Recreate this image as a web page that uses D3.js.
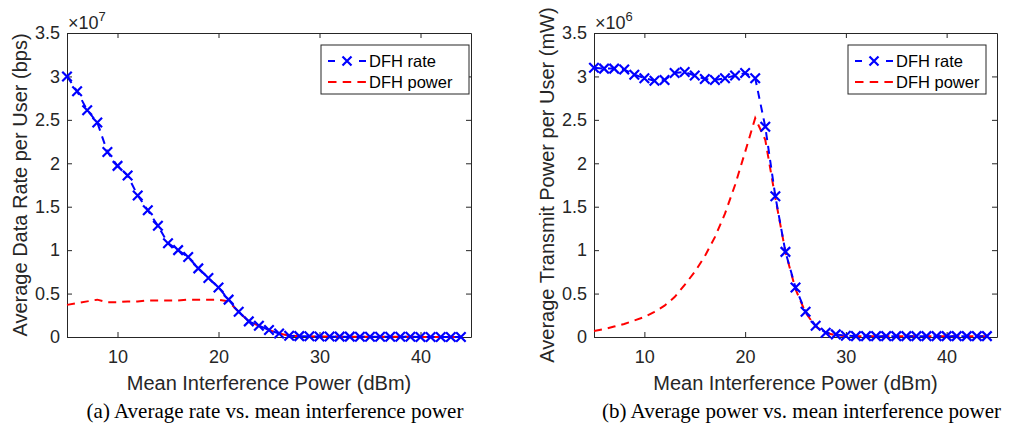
<!DOCTYPE html>
<html>
<head>
<meta charset="utf-8">
<script src="https://cdn.jsdelivr.net/npm/d3@7"></script>
<style>
  body { margin: 0; background: #fff; }
  svg { display: block; }
</style>
</head>
<body>
<svg id="chart" width="1028" height="436"></svg>
<script>
// x positions of the samples (dBm)
const interference = [5, 6, 7, 8, 9, 10, 11, 12, 13, 14, 15, 16, 17, 18, 19, 20, 21, 22, 23, 24,
                      25, 26, 27, 28, 29, 30, 31, 32, 33, 34, 35, 36, 37, 38, 39, 40, 41, 42, 43, 44];

// (a) average rate, in units of 1e7 bps
const rateA_dfhRate = [3.00, 2.83, 2.61, 2.47, 2.13, 1.97, 1.86, 1.63, 1.46, 1.28,
                       1.08, 1.00, 0.92, 0.79, 0.68, 0.57, 0.43, 0.29, 0.18, 0.13,
                       0.08, 0.04, 0.015, 0.01, 0.008, 0.006, 0.005, 0.004, 0.004, 0.003,
                       0.003, 0.002, 0.002, 0.002, 0.002, 0.001, 0.001, 0.001, 0.001, 0.001];
const rateA_dfhPower = [0.37, 0.39, 0.41, 0.43, 0.40, 0.40, 0.41, 0.41, 0.42, 0.42,
                        0.42, 0.42, 0.43, 0.43, 0.43, 0.43, 0.41, 0.29, 0.18, 0.13,
                        0.08, 0.04, 0.015, 0.01, 0.008, 0.006, 0.005, 0.004, 0.004, 0.003,
                        0.003, 0.002, 0.002, 0.002, 0.002, 0.001, 0.001, 0.001, 0.001, 0.001];

// (b) average transmit power, in units of 1e6 mW
const powerB_dfhRate = [3.10, 3.09, 3.09, 3.08, 3.02, 2.98, 2.95, 2.96, 3.04, 3.05,
                        3.01, 2.97, 2.96, 2.98, 3.01, 3.04, 2.98, 2.42, 1.62, 0.98,
                        0.57, 0.29, 0.13, 0.05, 0.03, 0.015, 0.01, 0.01, 0.01, 0.01,
                        0.01, 0.01, 0.01, 0.01, 0.01, 0.01, 0.01, 0.01, 0.01, 0.01];
const powerB_dfhPower = [0.07, 0.09, 0.12, 0.15, 0.19, 0.23, 0.29, 0.36, 0.46, 0.60,
                         0.75, 0.93, 1.15, 1.42, 1.75, 2.13, 2.52, 2.27, 1.60, 0.98,
                         0.55, 0.28, 0.12, 0.05, 0.02, 0.01, 0.01, 0.01, 0.01, 0.01,
                         0.01, 0.01, 0.01, 0.01, 0.01, 0.01, 0.01, 0.01, 0.01, 0.01];

const xTicks = [10, 20, 30, 40];
const yTicks = [0, 0.5, 1, 1.5, 2, 2.5, 3, 3.5];
const legendLabels = ['DFH rate', 'DFH power'];

const panels = [
  { left: 67, right: 471, exponent: '7', yLabel: 'Average Data Rate per User (bps)',
    caption: '(a) Average rate vs. mean interference power',
    rate: rateA_dfhRate, power: rateA_dfhPower, legendX: 321, legendW: 148 },
  { left: 594, right: 997, exponent: '6', yLabel: 'Average Transmit Power per User (mW)',
    caption: '(b) Average power vs. mean interference power',
    rate: powerB_dfhRate, power: powerB_dfhPower, legendX: 848, legendW: 138 }
];

const plotTop = 33, plotBottom = 337;
const axisColor = '#262626';
const font = '"Liberation Sans", Arial, sans-serif';
const svg = d3.select('#chart');

function xMark(g, x, y, size, color) {
  const h = size / 2;
  g.append('path')
    .attr('d', `M${x - h},${y - h}L${x + h},${y + h}M${x - h},${y + h}L${x + h},${y - h}`)
    .attr('stroke', color).attr('stroke-width', 2.2).attr('fill', 'none');
}

panels.forEach(p => {
  const x = d3.scaleLinear().domain([5, 45]).range([p.left, p.right]);
  const y = d3.scaleLinear().domain([0, 3.5]).range([plotBottom, plotTop]);
  const g = svg.append('g');

  // axes (box with inward ticks)
  g.append('g').attr('transform', `translate(0,${plotBottom})`)
    .call(d3.axisBottom(x).tickValues(xTicks).tickSizeInner(-5).tickSizeOuter(0).tickPadding(13));
  g.append('g').attr('transform', `translate(0,${plotTop})`)
    .call(d3.axisTop(x).tickValues(xTicks).tickSizeInner(-5).tickSizeOuter(0).tickFormat(''));
  g.append('g').attr('transform', `translate(${p.left},0)`)
    .call(d3.axisLeft(y).tickValues(yTicks).tickSizeInner(-5).tickSizeOuter(0).tickPadding(7)
      .tickFormat(d3.format('')));
  g.append('g').attr('transform', `translate(${p.right},0)`)
    .call(d3.axisRight(y).tickValues(yTicks).tickSizeInner(-5).tickSizeOuter(0).tickFormat(''));

  g.selectAll('.domain').attr('stroke', axisColor);
  g.selectAll('.tick line').attr('stroke', axisColor);
  g.selectAll('.tick text').attr('fill', axisColor).style('font-family', font).style('font-size', '18px');

  const pts = interference.map((v, i) => ({ x: v, r: p.rate[i], pw: p.power[i] }));
  const line = key => d3.line().x(d => x(d.x)).y(d => y(d[key]));

  g.append('path').datum(pts).attr('d', line('pw'))
    .attr('fill', 'none').attr('stroke', '#ff0000').attr('stroke-width', 2).attr('stroke-dasharray', '8,6');
  g.append('path').datum(pts).attr('d', line('r'))
    .attr('fill', 'none').attr('stroke', '#0000ff').attr('stroke-width', 2).attr('stroke-dasharray', '8,6');
  pts.forEach(d => xMark(g, x(d.x), y(d.r), 9.5, '#0000ff'));

  // exponent
  const ex = g.append('text').attr('x', p.left + 1).attr('y', 29)
    .attr('fill', axisColor).style('font-family', font).style('font-size', '18px');
  ex.append('tspan').text('\u00d710');
  ex.append('tspan').attr('dy', -8).style('font-size', '13px').text(p.exponent);

  // labels
  const cx = (p.left + p.right) / 2;
  g.append('text').attr('x', cx).attr('y', 390).attr('text-anchor', 'middle')
    .attr('fill', axisColor).style('font-family', font).style('font-size', '20px')
    .text('Mean Interference Power (dBm)');
  g.append('text').attr('transform', `translate(${p.left - 40},${(plotTop + plotBottom) / 2}) rotate(-90)`)
    .attr('text-anchor', 'middle').attr('fill', axisColor)
    .style('font-family', font).style('font-size', '20px').text(p.yLabel);
  g.append('text').attr('x', cx + 6).attr('y', 418).attr('text-anchor', 'middle')
    .attr('fill', '#000').style('font-family', '"Liberation Serif", "Times New Roman", serif')
    .style('font-size', '21px').text(p.caption);

  // legend
  const lg = g.append('g').attr('transform', `translate(${p.legendX},45)`);
  lg.append('rect').attr('width', p.legendW).attr('height', 49)
    .attr('fill', '#fff').attr('stroke', axisColor).attr('stroke-width', 1);
  legendLabels.forEach((lab, i) => {
    const ly = 16 + i * 21;
    const color = i === 0 ? '#0000ff' : '#ff0000';
    lg.append('line').attr('x1', 7).attr('x2', 45).attr('y1', ly).attr('y2', ly)
      .attr('stroke', color).attr('stroke-width', 2).attr('stroke-dasharray', i === 0 ? '7,24,7' : '8.5,6.2');
    if (i === 0) xMark(lg, 26, ly, 9, color);
    lg.append('text').attr('x', 48).attr('y', ly + 6).attr('fill', '#000')
      .style('font-family', font).style('font-size', '16.5px').text(lab);
  });
});
</script>
</body>
</html>
